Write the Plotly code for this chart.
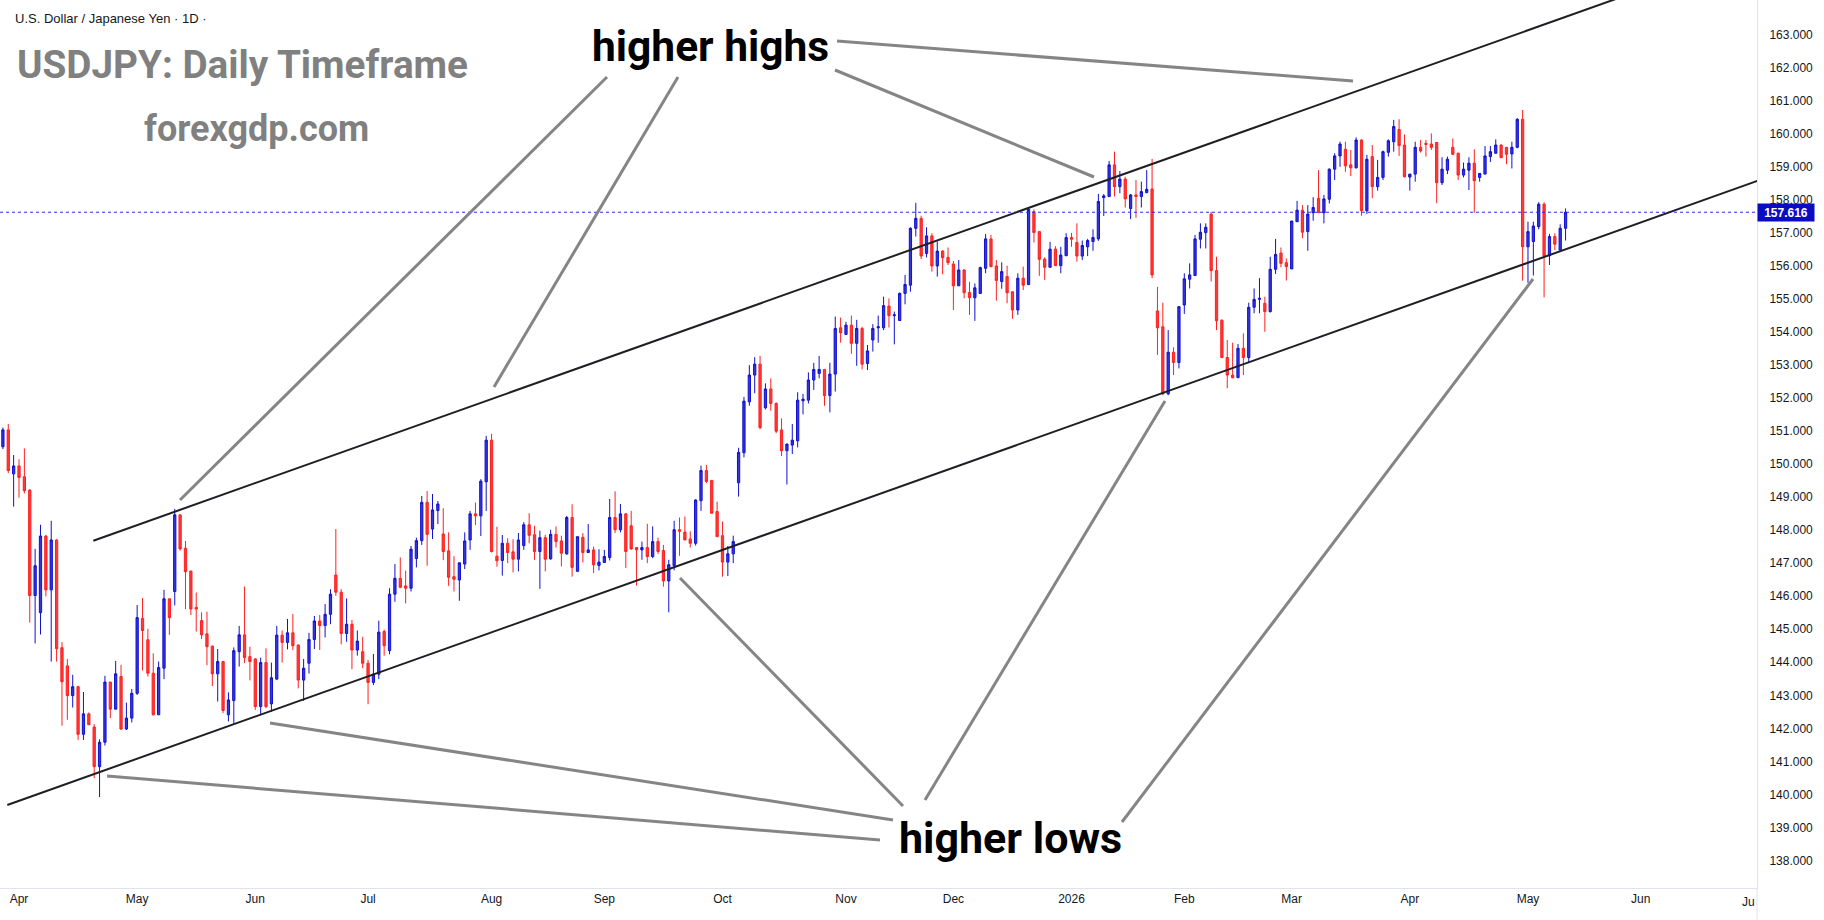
import plotly.graph_objects as go
import pandas as pd

# ---------------- data ----------------
open_ = [150.52,151.03,149.70,149.94,149.61,149.21,146.02,145.50,147.82,146.19,
 147.70,144.44,143.89,142.99,143.26,141.82,142.44,142.04,140.84,141.58,
 143.40,142.58,143.57,141.98,142.31,143.06,145.33,144.68,143.67,142.41,
 143.82,145.92,146.14,148.46,147.45,146.76,145.66,145.26,144.86,144.49,
 143.65,144.02,142.41,142.84,144.32,144.83,144.17,144.10,142.66,143.99,
 142.74,143.49,144.82,144.60,144.89,144.52,143.46,143.97,144.69,145.25,
 145.11,145.45,146.64,146.12,144.87,145.15,144.37,144.32,143.97,143.39,
 143.64,144.93,144.35,146.06,146.54,146.31,146.24,147.14,147.68,148.84,
 148.03,148.59,147.88,147.37,146.59,146.49,146.97,147.70,148.49,148.43,
 149.46,150.72,147.21,147.08,147.60,147.34,147.12,147.53,148.16,147.86,
 147.35,147.77,147.13,147.87,147.67,147.28,148.38,146.75,147.78,147.32,
 147.40,146.93,147.02,147.17,148.38,148.01,148.49,148.13,147.47,147.40,
 147.47,147.20,147.65,147.38,146.46,146.92,148.01,147.94,147.73,147.60,
 148.89,149.80,149.50,148.56,147.83,147.03,147.28,149.43,150.34,151.88,
 152.69,153.02,151.70,152.27,151.83,151.03,150.40,150.57,150.70,151.91,
 151.93,152.54,152.74,152.86,152.07,152.72,154.12,153.92,154.20,153.65,
 154.10,153.04,153.75,154.12,154.12,154.78,154.49,154.34,155.16,155.41,
 157.13,157.43,156.37,156.90,155.99,156.44,156.25,156.05,155.39,155.87,
 155.19,155.03,155.16,155.92,156.81,155.99,155.52,155.67,155.21,154.66,
 155.62,155.43,157.63,157.03,156.20,155.95,156.50,156.00,156.30,156.85,
 156.70,156.29,156.57,156.73,156.81,158.06,158.09,159.05,158.39,158.62,
 157.73,158.14,158.09,158.21,158.32,154.63,154.15,152.12,153.38,153.07,
 154.81,155.59,155.70,156.80,157.00,157.56,155.85,154.35,153.22,152.69,
 152.61,153.50,153.22,154.74,154.98,154.86,154.61,155.89,156.38,156.09,
 155.90,157.33,157.68,157.03,157.60,158.04,157.60,158.01,158.92,159.32,
 159.52,159.05,158.96,159.80,157.66,159.30,158.39,158.67,159.43,159.75,
 160.12,159.65,158.68,158.77,159.58,159.70,159.68,159.73,158.51,158.89,
 159.58,159.40,158.74,158.89,159.10,158.67,158.77,159.30,159.40,159.65,
 159.58,159.38,159.58,160.43,156.57,156.73,157.18,157.86,156.30,156.88,
 156.47,157.13]
high = [151.10,151.21,150.27,150.14,150.47,149.23,147.43,148.16,147.85,148.28,
 147.72,144.61,144.10,143.62,143.29,143.10,142.48,142.13,141.67,143.59,
 143.40,144.04,143.92,142.78,143.19,145.73,145.94,145.01,144.27,144.02,
 146.19,145.92,148.64,148.46,147.67,146.76,146.11,145.51,145.53,144.49,
 144.40,144.04,143.09,144.45,145.10,146.29,144.47,144.12,144.14,144.42,
 143.99,145.10,144.96,145.31,145.46,144.54,144.10,144.89,145.40,145.43,
 145.76,146.21,148.03,146.21,145.93,145.28,144.96,144.77,144.07,144.25,
 145.26,144.99,146.24,146.97,147.17,146.77,147.52,147.77,149.03,149.18,
 149.09,148.88,148.66,147.93,147.21,147.01,147.93,148.58,148.83,149.54,
 150.85,150.91,148.10,147.85,147.75,147.72,147.91,148.24,148.51,148.13,
 147.98,147.86,148.01,148.11,147.83,148.43,148.78,147.80,147.91,148.18,
 147.50,147.42,147.40,148.94,149.17,148.79,148.51,148.58,147.47,147.65,
 148.19,148.11,147.77,147.55,147.10,148.28,148.38,148.41,147.96,148.93,
 149.95,149.97,149.52,148.86,148.26,147.52,147.83,150.49,152.03,152.99,
 153.23,153.27,152.44,152.59,151.86,151.38,150.62,151.21,152.17,152.12,
 152.77,153.06,153.27,152.86,153.06,154.46,154.43,154.30,154.49,154.36,
 154.15,153.60,154.23,154.49,155.06,155.01,154.61,155.19,155.72,157.16,
 157.90,157.51,157.16,156.98,156.73,156.47,156.55,156.14,156.17,155.89,
 155.51,155.46,155.97,156.96,156.93,156.17,156.10,156.00,155.21,155.77,
 155.97,157.73,157.70,157.03,156.25,156.72,156.59,156.57,156.98,156.99,
 157.28,156.76,156.81,157.10,158.17,158.17,159.17,159.45,158.86,158.69,
 158.17,158.59,158.54,158.89,159.23,155.36,154.88,154.05,153.53,154.76,
 155.77,156.07,156.93,157.28,157.28,157.63,156.27,154.37,153.75,153.67,
 153.63,153.95,154.88,155.31,155.62,155.06,156.27,156.81,156.55,156.22,
 157.35,157.96,157.83,157.83,158.07,158.89,158.14,158.94,159.40,159.75,
 159.75,159.50,159.88,159.82,159.35,159.65,159.20,159.48,159.82,160.41,
 160.43,159.97,158.77,159.75,159.80,159.80,160.00,159.73,159.28,159.30,
 159.85,159.42,159.12,159.28,159.52,158.79,159.62,159.62,159.82,159.67,
 159.58,159.75,160.46,160.71,157.33,157.33,157.92,157.92,156.96,156.98,
 157.25,157.73]
low = [150.45,149.72,148.71,148.98,149.11,145.20,144.57,144.84,145.99,144.02,
 144.02,142.08,142.26,142.63,141.65,141.65,142.11,140.49,139.92,141.48,
 142.31,142.58,141.95,141.95,142.18,143.01,143.75,143.57,142.39,142.41,
 143.49,144.83,145.72,147.38,145.61,145.43,144.93,144.70,143.91,143.28,
 142.81,142.46,142.21,142.14,143.87,143.97,143.45,142.56,142.40,142.61,
 142.50,143.46,143.99,144.39,144.37,143.21,142.83,143.66,144.40,144.37,
 144.75,145.15,146.01,144.54,144.62,143.79,144.20,143.82,142.73,143.31,
 143.49,144.20,144.24,145.83,146.24,145.78,146.14,146.87,147.55,146.92,
 147.73,148.18,147.09,146.31,146.14,145.86,146.82,147.40,148.15,147.82,
 148.58,147.32,146.89,146.62,147.00,146.72,146.75,147.40,147.60,147.10,
 146.22,146.75,147.10,147.47,146.90,147.25,146.59,146.75,147.02,147.32,
 146.70,146.78,147.00,147.08,147.91,147.93,146.85,147.40,146.32,147.10,
 147.00,147.15,147.28,146.29,145.51,146.78,147.22,147.70,147.47,147.53,
 148.58,149.42,148.49,147.80,146.59,146.61,147.00,149.01,150.20,151.76,
 152.14,151.05,151.65,151.61,150.93,150.24,149.38,150.30,150.50,151.50,
 151.83,152.24,152.59,151.76,151.56,152.19,153.67,153.90,153.33,152.97,
 152.86,152.84,153.40,153.67,154.05,154.13,153.62,154.34,154.83,155.21,
 156.88,156.20,156.25,155.82,155.67,155.74,156.02,154.66,155.39,155.01,
 154.51,154.33,155.16,155.77,155.95,154.94,155.30,154.86,154.39,154.51,
 155.26,155.41,156.70,155.69,155.57,155.95,155.99,155.77,156.29,156.57,
 156.12,156.17,156.29,156.45,156.75,157.50,158.09,158.09,158.19,157.76,
 157.41,157.45,157.76,158.19,155.62,153.30,152.08,152.08,152.69,152.89,
 154.54,155.31,155.69,156.52,156.52,155.52,154.05,153.20,152.29,152.59,
 152.61,152.69,153.06,154.56,154.56,154.00,154.58,155.75,155.95,155.55,
 155.90,157.33,156.83,156.45,157.36,157.60,157.28,157.88,158.59,158.99,
 158.84,158.71,158.94,157.51,157.56,158.04,158.27,158.59,159.30,159.45,
 159.32,158.67,158.27,158.54,159.42,159.30,159.50,157.89,158.44,158.77,
 159.35,158.59,158.67,158.29,157.60,158.54,158.77,159.14,159.40,159.25,
 159.07,158.94,159.55,155.54,155.48,155.70,157.10,155.04,156.02,156.47,
 156.42,156.76]
close = [151.03,149.80,149.94,149.59,149.19,146.02,146.92,147.82,146.19,147.70,
 144.41,143.41,142.99,143.26,141.82,142.44,142.11,140.84,141.58,143.40,
 142.58,143.65,141.98,142.31,143.06,145.35,144.96,143.67,142.41,143.84,
 145.92,145.35,148.46,147.43,146.74,145.61,145.61,144.83,144.47,143.65,
 144.02,142.54,142.86,144.35,144.83,144.14,144.02,142.66,143.99,142.66,
 143.53,144.82,144.60,144.89,144.50,143.46,143.82,144.69,145.25,145.11,
 145.45,146.06,146.12,144.87,145.15,144.37,144.64,143.97,143.39,143.64,
 144.91,144.50,146.06,146.54,146.27,146.24,147.42,147.68,148.84,147.87,
 148.61,148.79,147.35,146.57,146.51,147.01,147.67,148.49,148.43,149.48,
 150.72,147.35,147.07,147.60,147.32,147.12,147.70,148.16,147.84,147.35,
 147.77,147.12,147.87,147.65,147.30,148.38,146.87,147.80,147.32,147.40,
 146.95,147.03,147.20,148.38,148.01,148.49,147.35,147.43,147.40,147.47,
 147.20,147.65,147.35,146.46,146.95,148.01,147.96,147.70,147.60,148.91,
 149.80,149.47,148.51,147.80,147.03,147.28,147.65,150.35,151.90,152.69,
 153.02,151.10,152.27,151.83,150.99,150.40,150.60,150.72,151.93,151.96,
 152.54,152.86,152.86,152.07,152.72,154.10,153.97,154.20,153.65,154.10,
 153.02,153.42,154.10,154.15,154.79,154.49,154.51,155.16,155.43,157.13,
 157.43,156.29,156.90,155.99,156.44,156.24,156.09,155.39,155.87,155.18,
 155.03,155.33,155.94,156.81,155.97,155.55,155.82,155.18,154.66,155.62,
 155.41,157.70,157.00,156.19,155.95,156.50,156.00,156.32,156.85,156.80,
 156.29,156.61,156.76,156.85,157.94,158.11,159.05,158.39,158.62,158.02,
 158.14,158.09,158.24,158.31,155.72,154.12,152.12,153.38,153.07,154.76,
 155.60,155.72,156.81,157.01,157.16,155.85,154.33,153.22,152.69,152.61,
 153.50,153.22,154.74,154.98,155.01,154.61,155.89,156.34,156.07,155.97,
 157.35,157.68,157.01,157.56,157.76,157.60,158.02,158.92,159.32,159.68,
 159.02,158.96,159.80,157.66,159.22,158.39,158.67,159.45,159.78,160.21,
 159.63,158.69,158.77,159.58,159.47,159.67,159.58,158.51,158.92,159.22,
 159.37,158.74,158.92,159.10,158.57,158.79,159.32,159.45,159.65,159.27,
 159.37,159.58,160.43,156.57,157.03,157.20,157.86,156.30,156.88,156.65,
 157.13,157.616]

first_day = "2025-03-27"
closed_days = ["2025-12-25", "2026-01-01"]
month_labels = ["Apr", "May", "Jun", "Jul", "Aug", "Sep", "Oct", "Nov", "Dec",
                "2026", "Feb", "Mar", "Apr", "May", "Jun"]
month_starts = ["2025-04", "2025-05", "2025-06", "2025-07", "2025-08", "2025-09",
                "2025-10", "2025-11", "2025-12", "2026-01", "2026-02", "2026-03",
                "2026-04", "2026-05", "2026-06"]
last_price = 157.616

# ---------------- trading-day index ----------------
days = pd.bdate_range(first_day, "2026-07-31")
days = [d for d in days if d.strftime("%Y-%m-%d") not in closed_days]
n = len(close)
xi = list(range(n))
tickvals = []
for ms in month_starts:
    for k, d in enumerate(days):
        if d.strftime("%Y-%m") == ms:
            tickvals.append(k)
            break

# pixel helpers (layout of the reference picture)
PX0, PXW = 2.9, 5.37          # x pixel of index 0, pixels per candle
PY163, PYU = 34.3, 33.05      # y pixel of 163.000, pixels per unit
def ix(px):
    return (px - PX0) / PXW
def pr(py):
    return 163 - (py - PY163) / PYU

PLOT_R = 1757
PLOT_B = 888
x_range = [ix(0), ix(PLOT_R)]
y_range = [pr(PLOT_B), pr(0)]

fig = go.Figure()
fig.add_trace(go.Candlestick(
    x=xi, open=open_, high=high, low=low, close=close,
    increasing=dict(line=dict(color="#1010d0", width=1), fillcolor="#3535d8"),
    decreasing=dict(line=dict(color="#ff2020", width=1), fillcolor="#ff3838"),
    whiskerwidth=0, showlegend=False, hoverinfo="skip"))

# current price dotted line
fig.add_trace(go.Scatter(x=[x_range[0], x_range[1]], y=[last_price, last_price],
                         mode="lines", line=dict(color="#2b2be0", width=1, dash="dot"),
                         showlegend=False, hoverinfo="skip"))

def seg(p1, p2, color, width):
    fig.add_trace(go.Scatter(x=[ix(p1[0]), ix(p2[0])], y=[pr(p1[1]), pr(p2[1])],
                             mode="lines", line=dict(color=color, width=width),
                             showlegend=False, hoverinfo="skip"))

# upper channel: from (93.3,540.7) slope -0.3558
seg((93.3, 540.7), (1700, 540.7 - 0.3558 * (1700 - 93.3)), "#1e1e24", 2)
# lower channel: from (7.3,805) slope -0.3566
seg((7.3, 805), (1800, 805 - 0.3566 * (1800 - 7.3)), "#1e1e24", 2)

GRAY = "#858585"
pointers = [
    ((607, 77), (180, 500)),
    ((678, 77), (494, 387)),
    ((835, 70), (1094, 177)),
    ((837, 41), (1353, 81)),
    ((107, 776), (880, 840)),
    ((270, 723), (893, 820)),
    ((680, 578), (903, 806)),
    ((1165, 401), (925, 800)),
    ((1533, 279), (1122, 822)),
]
for a, b in pointers:
    seg(a, b, GRAY, 3)

def pxp(px):
    return px / PLOT_R
def pyp(py):
    return 1 - py / PLOT_B

ann = []
ann.append(dict(x=pxp(13), y=pyp(18), xref="paper", yref="paper", xanchor="left", yanchor="middle",
                text="U.S. Dollar / Japanese Yen · 1D ·", showarrow=False,
                font=dict(family="Liberation Sans", size=13, color="#131722")))
ann.append(dict(x=pxp(15), y=pyp(64), xref="paper", yref="paper", xanchor="left", yanchor="middle",
                text="<b>USDJPY: Daily Timeframe</b>", showarrow=False,
                font=dict(family="Roboto", size=38.7, color="#808080")))
ann.append(dict(x=pxp(256), y=pyp(129), xref="paper", yref="paper", xanchor="center", yanchor="middle",
                text="<b>forexgdp.com</b>", showarrow=False,
                font=dict(family="Roboto", size=36, color="#808080")))
ann.append(dict(x=pxp(710), y=pyp(46), xref="paper", yref="paper", xanchor="center", yanchor="middle",
                text="<b>higher highs</b>", showarrow=False,
                font=dict(family="Roboto", size=42.5, color="#000000")))
ann.append(dict(x=pxp(1010), y=pyp(838), xref="paper", yref="paper", xanchor="center", yanchor="middle",
                text="<b>higher lows</b>", showarrow=False,
                font=dict(family="Roboto", size=43, color="#000000")))
ann.append(dict(x=1.0, y=last_price, xref="paper", yref="y", xanchor="left", yanchor="middle",
                text="<b>%.3f</b>" % last_price, showarrow=False, bgcolor="#0b0bc4",
                width=52, height=13, align="center",
                borderpad=2, font=dict(family="Liberation Sans", size=12, color="#ffffff")))
ann.append(dict(x=1.0, y=-(902 - PLOT_B) / PLOT_B, xref="paper", yref="paper", xanchor="right",
                yanchor="middle", text="Ju", showarrow=False,
                font=dict(family="Liberation Sans", size=12, color="#131722")))

fig.update_layout(
    width=1824, height=920,
    margin=dict(l=0, r=1824 - PLOT_R, t=0, b=920 - PLOT_B),
    paper_bgcolor="#ffffff", plot_bgcolor="#ffffff",
    showlegend=False, annotations=ann,
    boxgap=0.4,
    xaxis=dict(range=x_range, tickmode="array", tickvals=tickvals, ticktext=month_labels,
               showgrid=False, zeroline=False, showline=True, linecolor="#e0e3eb", linewidth=1,
               ticks="", tickfont=dict(family="Liberation Sans", size=12, color="#131722"),
               rangeslider=dict(visible=False), fixedrange=True),
    yaxis=dict(range=y_range, side="right", dtick=1, tick0=0, tickformat=".3f",
               showgrid=False, zeroline=False, showline=True, linecolor="#e0e3eb", linewidth=1,
               ticks="", ticklabelstandoff=9,
               tickfont=dict(family="Liberation Sans", size=12, color="#131722"), fixedrange=True),
    shapes=[dict(type="line", xref="paper", yref="paper", x0=1, x1=1, y0=0,
                 y1=-(920 - PLOT_B) / PLOT_B, line=dict(color="#e0e3eb", width=1))],
)

fig.write_html("out.html")
